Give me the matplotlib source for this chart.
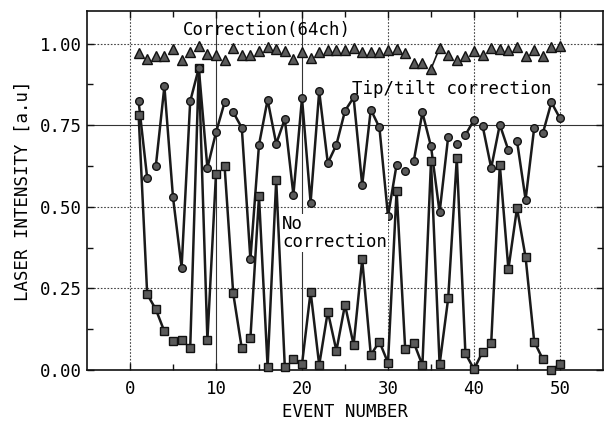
import matplotlib.pyplot as plt
import numpy as np

plt.rcParams['font.family'] = 'DejaVu Sans Mono'

events = list(range(1, 51))

# Correction(64ch)
full_corr = [0.971, 0.953, 0.961, 0.961, 0.983, 0.951, 0.973, 0.992, 0.968, 0.966,
             0.949, 0.987, 0.966, 0.966, 0.976, 0.990, 0.982, 0.976, 0.953, 0.973,
             0.956, 0.973, 0.980, 0.980, 0.980, 0.987, 0.973, 0.973, 0.973, 0.980,
             0.983, 0.971, 0.940, 0.940, 0.922, 0.987, 0.966, 0.951, 0.963, 0.976,
             0.966, 0.987, 0.982, 0.980, 0.990, 0.963, 0.980, 0.963, 0.990, 0.992]

# Tip/tilt correction
tiptilt = [0.823, 0.588, 0.624, 0.869, 0.529, 0.314, 0.823, 0.925, 0.619, 0.728,
           0.820, 0.790, 0.742, 0.339, 0.690, 0.828, 0.693, 0.769, 0.537, 0.833,
           0.513, 0.854, 0.634, 0.690, 0.794, 0.835, 0.567, 0.798, 0.743, 0.472,
           0.629, 0.611, 0.641, 0.789, 0.685, 0.483, 0.715, 0.692, 0.720, 0.766,
           0.748, 0.619, 0.752, 0.673, 0.702, 0.522, 0.742, 0.725, 0.820, 0.771]

# No correction
no_corr = [0.782, 0.232, 0.186, 0.118, 0.090, 0.092, 0.066, 0.925, 0.092, 0.601,
           0.624, 0.235, 0.066, 0.097, 0.532, 0.010, 0.581, 0.010, 0.033, 0.017,
           0.240, 0.015, 0.179, 0.059, 0.200, 0.077, 0.339, 0.046, 0.087, 0.022,
           0.549, 0.063, 0.084, 0.015, 0.639, 0.017, 0.220, 0.649, 0.051, 0.002,
           0.056, 0.082, 0.629, 0.309, 0.496, 0.345, 0.087, 0.033, 0.000, 0.017]

# runs of events joined by a line (first, last)
tiptilt_runs = [(1, 2), (3, 11), (12, 31), (32, 32), (33, 37), (38, 38),
                (39, 40), (41, 44), (45, 47), (48, 50)]
no_corr_runs = [(1, 4), (5, 5), (6, 6), (7, 10), (11, 13), (14, 18), (19, 19),
                (20, 32), (33, 41), (42, 48), (49, 50)]
full_corr_runs = [(35, 36)]


def joined(values, runs):
    xs, ys = [], []
    for a, b in runs:
        for e in range(a, b + 1):
            xs.append(e)
            ys.append(values[e - 1])
        xs.append(np.nan)
        ys.append(np.nan)
    return xs, ys


fig = plt.figure(figsize=(6.05, 4.24), dpi=100)
ax = fig.add_axes([0.1438, 0.1274, 0.8529, 0.8467])

ax.set_xlim(-5, 55)
ax.set_ylim(0, 1.1)

# grid: mostly dotted, a few lines solid as in the scan
for gx in [0, 30, 40, 50]:
    ax.axvline(gx, color='#444444', lw=0.8, ls=(0, (1.5, 1.5)), zorder=0)
for gx in [10, 20]:
    ax.axvline(gx, color='#333333', lw=0.8, zorder=0)
for gy in [0.25, 0.5, 1.0]:
    ax.axhline(gy, color='#444444', lw=0.8, ls=(0, (1.5, 1.5)), zorder=0)
ax.axhline(0.75, color='#333333', lw=0.8, zorder=0)

line_kw = dict(color='#1a1a1a', lw=1.8, zorder=2, clip_on=False)
mark_kw = dict(ls='none', mfc='#5a5a5a', mec='#111111', mew=1.0, zorder=3, clip_on=False)

x, y = joined(no_corr, no_corr_runs)
ax.plot(x, y, **line_kw)
ax.plot(events, no_corr, marker='s', ms=5.5, **mark_kw)

x, y = joined(tiptilt, tiptilt_runs)
ax.plot(x, y, **line_kw)
ax.plot(events, tiptilt, marker='o', ms=5.5, **mark_kw)

x, y = joined(full_corr, full_corr_runs)
ax.plot(x, y, color='#1a1a1a', lw=1.2, zorder=2)
ax.plot(events, full_corr, marker='^', ms=6.5, **mark_kw)

ax.text(6.1, 1.043, 'Correction(64ch)', fontsize=12.5, va='center', ha='left')
ax.text(25.8, 0.86, 'Tip/tilt correction', fontsize=12.5, va='center', ha='left')
ax.text(17.7, 0.42, 'No\ncorrection', fontsize=12.5, va='center', ha='left',
        linespacing=1.0, bbox=dict(fc='white', ec='none', pad=0.5))

ax.set_xticks([0, 10, 20, 30, 40, 50])
ax.set_xticks([5, 15, 25, 35, 45], minor=True)
ax.set_yticks([0, 0.25, 0.5, 0.75, 1.0])
ax.set_yticks([0.125, 0.375, 0.625, 0.875], minor=True)
ax.set_yticklabels(['0.00', '0.25', '0.50', '0.75', '1.00'])
ax.tick_params(which='both', direction='in', top=True, right=True, labelsize=12.5,
               width=1.0, color='#111111')
ax.tick_params(which='major', length=5)
ax.tick_params(which='minor', length=4)
ax.tick_params(axis='x', pad=7)

for s in ax.spines.values():
    s.set_linewidth(1.2)
    s.set_color('#111111')

ax.set_xlabel('EVENT NUMBER', fontsize=12.5, labelpad=4)
ax.set_ylabel('LASER INTENSITY [a.u]', fontsize=12.5, labelpad=6)

fig.savefig('out.png', dpi=100)
